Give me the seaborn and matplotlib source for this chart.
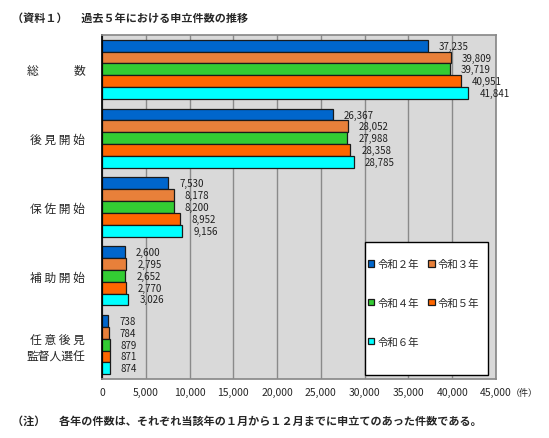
import pandas as pd
import matplotlib
matplotlib.use("Agg")
import matplotlib.pyplot as plt
from matplotlib.patches import Rectangle
import seaborn as sns

# データ
categories = ["総　　　数", "後 見 開 始", "保 佐 開 始", "補 助 開 始", "任 意 後 見\n監督人選任"]
years = ["令和２年", "令和３年", "令和４年", "令和５年", "令和６年"]
counts = {
    "令和２年": [37235, 26367, 7530, 2600, 738],
    "令和３年": [39809, 28052, 8178, 2795, 784],
    "令和４年": [39719, 27988, 8200, 2652, 879],
    "令和５年": [40951, 28358, 8952, 2770, 871],
    "令和６年": [41841, 28785, 9156, 3026, 874],
}
colors = ["#0066cc", "#e8803a", "#33cc33", "#ff6600", "#00ffff"]
xticks = list(range(0, 45001, 5000))

rows = []
for y in years:
    for c, v in zip(categories, counts[y]):
        rows.append({"category": c, "year": y, "count": v})
df = pd.DataFrame(rows)

sns.set_theme(style="white")
plt.rcParams["font.family"] = ["Noto Sans CJK JP", "DejaVu Sans"]

fig = plt.figure(figsize=(5.49, 4.39), dpi=100)
ax = fig.add_axes([102 / 549, 1 - 380 / 439, 394 / 549, 344 / 439])
ax.set_facecolor("#d9d9d9")

sns.barplot(data=df, y="category", x="count", hue="year", palette=colors,
            saturation=1, orient="h", width=0.86, edgecolor="#1a1a1a",
            linewidth=0.9, ax=ax, legend=True)

for cont in ax.containers:
    ax.bar_label(cont, labels=[f"{int(v):,}" for v in cont.datavalues],
                 padding=8, fontsize=7, color="#202020")

ax.set_xlim(0, 45000)
ax.set_ylim(len(categories) - 0.5, -0.5)
ax.set_xticks(xticks)
ax.set_xticklabels([f"{t:,}" for t in xticks], fontsize=7.5)
ax.tick_params(axis="x", length=0, pad=6)
ax.tick_params(axis="y", which="major", length=0, pad=12, labelsize=8.5)
ax.set_yticks([i - 0.5 for i in range(len(categories) + 1)], minor=True)
ax.tick_params(axis="y", which="minor", direction="in", length=3, color="black")
ax.xaxis.grid(True, color="#8a8a8a", linewidth=1)
ax.set_axisbelow(True)
ax.set_xlabel("")
ax.set_ylabel("")
for s in ["top", "right", "bottom"]:
    ax.spines[s].set_color("#8a8a8a")
ax.spines["left"].set_color("black")

# 凡例の枠（白地）
ax.add_patch(Rectangle((0.6675, 0.0116), 0.312, 0.386, transform=ax.transAxes,
                       facecolor="white", edgecolor="black", linewidth=1,
                       zorder=5))

# 凡例は行方向に並べる
handles, labels = ax.get_legend_handles_labels()
order = [0, 2, 4, 1, 3]
leg = ax.legend([handles[i] for i in order], [labels[i] for i in order],
                loc="upper left", bbox_to_anchor=(368 / 549, 1 - 260 / 439),
                bbox_transform=fig.transFigure, ncol=2, fontsize=7.5,
                frameon=False, handlelength=0.6, handleheight=0.6,
                handletextpad=0.3, labelspacing=2.75, borderpad=0,
                borderaxespad=0, columnspacing=0.9)
leg.set_zorder(6)

fig.text(524 / 549, 1 - 393 / 439, "（件）", fontsize=6.5, ha="center", va="center")
fig.text(12 / 549, 1 - 18 / 439, "（資料１）　 過去５年における申立件数の推移",
         fontsize=8, ha="left", va="center", fontweight="bold")
fig.text(12 / 549, 1 - 421 / 439,
         "（注）　 各年の件数は、それぞれ当該年の１月から１２月までに申立てのあった件数である。",
         fontsize=8, ha="left", va="center", fontweight="bold")

fig.savefig("out.png", dpi=100)
